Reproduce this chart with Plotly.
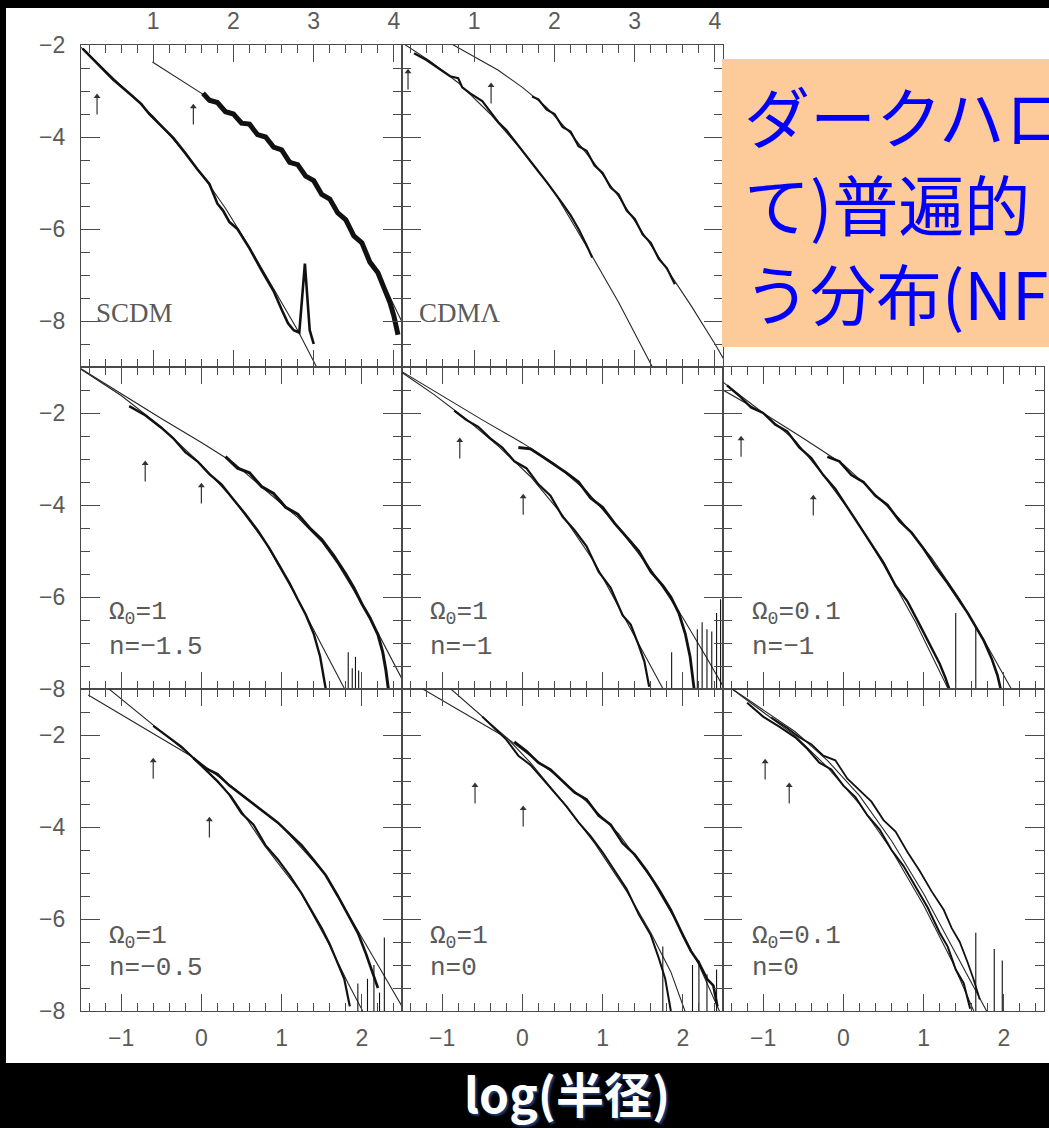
import plotly.graph_objects as go

# ------------------------------------------------------------------ data
# --- top row (x read on the top axis 1..4) ---
scdm_fit_in_x = [0.1, 0.4, 0.7, 1.0, 1.3, 1.6, 1.9, 2.2, 2.5, 2.8, 3.05]
scdm_fit_in_y = [-2.05, -2.55, -3.05, -3.55, -4.15, -4.8, -5.55, -6.4, -7.3, -8.2, -9.05]
scdm_dat_in_x = [0.12, 0.3, 0.5, 0.7, 0.85, 0.95, 1.1, 1.25, 1.4, 1.55, 1.7, 1.8, 1.87, 1.95, 2.05,
                 2.2, 2.35, 2.5, 2.6, 2.68, 2.75, 2.82, 2.89, 2.95, 3.0]
scdm_dat_in_y = [-2.08, -2.4, -2.75, -3.05, -3.28, -3.5, -3.75, -4.02, -4.35, -4.7, -5.02, -5.45, -5.6,
                 -5.85, -6.0, -6.42, -6.9, -7.35, -7.75, -8.05, -8.2, -8.25, -6.75, -8.2, -8.5]
scdm_fit_out_x = [0.99, 1.3, 1.7, 2.1, 2.5, 2.9, 3.3, 3.6, 3.9, 4.15]
scdm_fit_out_y = [-2.37, -2.72, -3.16, -3.64, -4.17, -4.8, -5.6, -6.35, -7.3, -8.2]
scdm_dat_out_x = [1.62, 1.7, 1.8, 1.9, 2.0, 2.1, 2.2, 2.3, 2.4, 2.5, 2.6, 2.7, 2.8, 2.9, 3.0, 3.1, 3.2,
                  3.3, 3.4, 3.5, 3.6, 3.7, 3.8, 3.9, 3.95, 4.0, 4.05]
scdm_dat_out_y = [-3.05, -3.2, -3.25, -3.45, -3.5, -3.7, -3.72, -3.95, -4.0, -4.22, -4.28, -4.55, -4.6,
                  -4.85, -4.95, -5.25, -5.35, -5.65, -5.8, -6.15, -6.3, -6.72, -6.95, -7.35, -7.6, -7.9, -8.3]
scdm_spk_x, scdm_spk_y = [], []
scdm_arr_x = [0.3, 1.5]
scdm_arr_y = [-3.04, -3.26]

cdml_fit_in_x = [0.1, 0.45, 0.8, 1.2, 1.6, 2.0, 2.4, 2.8, 3.22]
cdml_fit_in_y = [-1.95, -2.35, -2.82, -3.5, -4.3, -5.2, -6.38, -7.6, -9.0]
cdml_dat_in_x = [0.25, 0.4, 0.55, 0.7, 0.8, 0.85, 0.95, 1.1, 1.2, 1.3, 1.4, 1.5, 1.6, 1.7, 1.8, 1.9,
                 2.0, 2.1, 2.2, 2.3, 2.4, 2.47]
cdml_dat_in_y = [-2.18, -2.32, -2.5, -2.68, -2.72, -2.92, -3.05, -3.22, -3.45, -3.68, -3.85, -4.08,
                 -4.3, -4.52, -4.75, -4.97, -5.2, -5.45, -5.7, -6.0, -6.35, -6.62]
cdml_fit_out_x = [0.72, 1.0, 1.3, 1.6, 1.9, 2.2, 2.5, 2.8, 3.1, 3.4, 3.7, 4.0, 4.15]
cdml_fit_out_y = [-1.98, -2.25, -2.55, -2.92, -3.35, -3.92, -4.58, -5.3, -6.08, -6.86, -7.66, -8.5, -8.95]
cdml_dat_out_x = [1.72, 1.8, 1.9, 2.0, 2.1, 2.2, 2.3, 2.4, 2.5, 2.6, 2.7, 2.8, 2.9, 3.0, 3.1, 3.2, 3.3,
                  3.4, 3.5]
cdml_dat_out_y = [-3.12, -3.18, -3.4, -3.5, -3.78, -3.88, -4.2, -4.3, -4.62, -4.78, -5.1, -5.25, -5.6,
                  -5.78, -6.12, -6.3, -6.65, -6.85, -7.2]
cdml_spk_x, cdml_spk_y = [], []
cdml_arr_x = [0.175, 1.21]
cdml_arr_y = [-2.5, -2.8]

# --- middle row ---
m15_fit_out_x = [-1.5, -1.0, -0.5, 0.0, 0.4, 0.8, 1.2, 1.5, 1.7, 1.95, 2.2, 2.55]
m15_fit_out_y = [-1.04, -1.58, -2.12, -2.64, -3.08, -3.68, -4.27, -4.8, -5.28, -6.0, -6.78, -7.95]
m15_fit_in_x = [-1.5, -1.0, -0.5, 0.0, 0.4, 0.8, 1.2, 1.5, 1.8]
m15_fit_in_y = [-1.05, -1.62, -2.3, -3.12, -3.88, -4.82, -6.05, -7.05, -8.05]
m15_dat_out_x = [0.3, 0.45, 0.6, 0.75, 0.9, 1.05, 1.2, 1.35, 1.5, 1.65, 1.8, 1.9, 2.0, 2.1, 2.2, 2.26,
                 2.3, 2.33]
m15_dat_out_y = [-2.95, -3.2, -3.3, -3.6, -3.75, -4.05, -4.2, -4.5, -4.75, -5.1, -5.5, -5.8, -6.15,
                 -6.45, -6.82, -7.2, -7.6, -8.0]
m15_dat_in_x = [-0.9, -0.7, -0.5, -0.35, -0.2, -0.05, 0.1, 0.25, 0.4, 0.55, 0.7, 0.85, 1.0, 1.1, 1.2,
                1.3, 1.4, 1.48, 1.55]
m15_dat_in_y = [-1.85, -2.05, -2.32, -2.55, -2.85, -3.05, -3.33, -3.55, -3.88, -4.2, -4.55, -4.95,
                -5.4, -5.7, -6.05, -6.38, -6.8, -7.3, -8.0]
m15_spk_x = [1.83, 1.88, 1.92, 1.96]
m15_spk_y = [-7.2, -7.55, -7.3, -7.6]
m15_arr_x = [-0.7, 0.0]
m15_arr_y = [-3.02, -3.5]

m10_fit_out_x = [-1.5, -1.0, -0.5, 0.0, 0.4, 0.8, 1.2, 1.6, 2.0, 2.3, 2.52]
m10_fit_out_y = [-1.1, -1.63, -2.15, -2.65, -3.1, -3.7, -4.5, -5.4, -6.45, -7.33, -8.0]
m10_fit_in_x = [-1.5, -1.1, -0.7, -0.3, 0.1, 0.5, 0.9, 1.3, 1.6, 1.76]
m10_fit_in_y = [-1.12, -1.6, -2.13, -2.72, -3.38, -4.22, -5.25, -6.55, -7.5, -8.02]
m10_dat_out_x = [-0.05, 0.1, 0.25, 0.4, 0.55, 0.7, 0.85, 1.0, 1.15, 1.3, 1.45, 1.6, 1.75, 1.85, 1.95,
                 2.03, 2.09, 2.14]
m10_dat_out_y = [-2.75, -2.78, -2.95, -3.12, -3.3, -3.5, -3.85, -4.05, -4.4, -4.7, -5.0, -5.45, -5.75,
                 -6.0, -6.35, -6.8, -7.3, -8.0]
m10_dat_in_x = [-0.85, -0.7, -0.55, -0.4, -0.25, -0.1, 0.05, 0.2, 0.35, 0.5, 0.65, 0.8, 0.95, 1.1,
                1.25, 1.35, 1.45, 1.52, 1.58]
m10_dat_in_y = [-1.95, -2.15, -2.3, -2.55, -2.75, -3.05, -3.2, -3.55, -3.8, -4.25, -4.55, -4.9, -5.45,
                -5.8, -6.4, -6.6, -7.05, -7.4, -7.95]
m10_spk_x = [1.86, 2.18, 2.24, 2.3, 2.36, 2.42, 2.47, 2.5]
m10_spk_y = [-7.2, -6.7, -6.55, -6.7, -6.75, -6.35, -6.05, -6.5]
m10_arr_x = [-0.78, 0.01]
m10_arr_y = [-2.52, -3.74]

l10_fit_out_x = [-1.5, -1.0, -0.5, 0.0, 0.3, 0.7, 1.1, 1.45, 1.75, 2.1]
l10_fit_out_y = [-1.5, -2.0, -2.55, -3.12, -3.6, -4.3, -5.15, -6.05, -6.93, -8.02]
l10_fit_in_x = [-1.5, -1.0, -0.6, -0.25, 0.15, 0.5, 0.9, 1.3]
l10_fit_in_y = [-1.33, -2.0, -2.6, -3.35, -4.3, -5.3, -6.55, -7.98]
l10_dat_out_x = [-0.2, -0.05, 0.1, 0.25, 0.4, 0.55, 0.7, 0.85, 1.0, 1.15, 1.3, 1.45, 1.55, 1.65, 1.75,
                 1.85, 1.92, 1.96]
l10_dat_out_y = [-2.95, -3.05, -3.35, -3.5, -3.8, -4.0, -4.35, -4.6, -4.95, -5.35, -5.7, -6.1, -6.35,
                 -6.65, -6.95, -7.35, -7.7, -8.0]
l10_dat_in_x = [-1.45, -1.3, -1.15, -1.0, -0.85, -0.7, -0.55, -0.4, -0.25, -0.1, 0.05, 0.2, 0.35, 0.5,
                0.65, 0.8, 0.95, 1.1, 1.2, 1.27, 1.32]
l10_dat_in_y = [-1.4, -1.62, -1.88, -2.0, -2.25, -2.4, -2.75, -2.98, -3.35, -3.65, -4.05, -4.45, -4.85,
                -5.25, -5.75, -6.1, -6.6, -7.1, -7.45, -7.75, -8.0]
l10_spk_x = [1.4, 1.65]
l10_spk_y = [-6.35, -6.65]
l10_arr_x = [-1.275, -0.375]
l10_arr_y = [-2.48, -3.76]

# --- bottom row ---
b05_fit_a_x = [-1.41, -1.0, -0.5, -0.125, 0.4, 1.0, 1.53, 1.87, 2.2, 2.55]
b05_fit_a_y = [-1.13, -1.55, -2.07, -2.46, -3.15, -3.98, -5.0, -6.0, -7.0, -8.05]
b05_fit_b_x = [-1.2, -0.8, -0.5, -0.125, 0.375, 0.79, 1.24, 1.575, 1.83, 2.01]
b05_fit_b_y = [-0.93, -1.5, -1.92, -2.46, -3.33, -4.41, -5.43, -6.5, -7.4, -8.0]
b05_dat_a_x = [-0.1, 0.05, 0.2, 0.35, 0.5, 0.65, 0.8, 0.95, 1.1, 1.25, 1.4, 1.55, 1.7, 1.82, 1.95, 2.05,
               2.12, 2.2]
b05_dat_a_y = [-2.5, -2.72, -2.85, -3.1, -3.3, -3.5, -3.72, -3.9, -4.15, -4.4, -4.72, -5.05, -5.5,
               -5.9, -6.3, -6.75, -7.1, -7.5]
b05_dat_b_x = [-0.6, -0.4, -0.25, -0.1, 0.05, 0.2, 0.35, 0.5, 0.65, 0.8, 0.95, 1.1, 1.25, 1.4, 1.5,
               1.6, 1.7, 1.78, 1.85]
b05_dat_b_y = [-1.8, -2.05, -2.25, -2.5, -2.75, -3.0, -3.3, -3.7, -3.95, -4.4, -4.7, -5.05, -5.45,
               -5.9, -6.2, -6.55, -6.95, -7.3, -7.9]
b05_spk_x = [1.95, 2.07, 2.15, 2.22, 2.28]
b05_spk_y = [-7.4, -7.3, -7.0, -7.6, -6.4]
b05_arr_x = [-0.6, 0.1]
b05_arr_y = [-2.48, -3.76]

b00_fit_a_x = [-1.3, -0.8, -0.4, -0.19, 0.1, 0.4, 0.8, 1.2, 1.6, 1.9, 2.2, 2.46]
b00_fit_a_y = [-0.94, -1.45, -1.86, -2.07, -2.45, -2.85, -3.45, -4.15, -5.1, -6.0, -7.0, -8.02]
b00_fit_b_x = [-0.95, -0.6, -0.19, 0.1, 0.5, 0.9, 1.3, 1.6, 1.85, 2.03]
b00_fit_b_y = [-0.91, -1.45, -2.07, -2.6, -3.45, -4.35, -5.4, -6.3, -7.15, -8.02]
b00_dat_a_x = [-0.1, 0.05, 0.2, 0.35, 0.5, 0.65, 0.8, 0.95, 1.1, 1.25, 1.4, 1.55, 1.7, 1.85, 2.0, 2.1,
               2.2, 2.3, 2.38, 2.43]
b00_dat_a_y = [-2.15, -2.35, -2.6, -2.75, -3.0, -3.25, -3.4, -3.75, -3.95, -4.35, -4.6, -4.95, -5.35,
               -5.8, -6.35, -6.7, -6.95, -7.3, -7.45, -7.9]
b00_dat_b_x = [-0.5, -0.35, -0.2, -0.05, 0.1, 0.25, 0.4, 0.55, 0.7, 0.85, 1.0, 1.15, 1.3, 1.45, 1.6,
               1.7, 1.78, 1.85]
b00_dat_b_y = [-1.6, -1.85, -2.1, -2.45, -2.65, -2.95, -3.25, -3.55, -3.9, -4.2, -4.55, -4.95, -5.35,
               -5.9, -6.35, -6.85, -7.3, -8.0]
b00_spk_x = [1.75, 2.12, 2.2, 2.3, 2.42]
b00_spk_y = [-6.6, -7.0, -6.9, -7.2, -7.1]
b00_arr_x = [-0.59, 0.01]
b00_arr_y = [-3.02, -3.52]

b01_fit_a_x = [-1.45, -1.0, -0.6, -0.2, 0.2, 0.6, 1.0, 1.4, 1.8]
b01_fit_a_y = [-0.92, -1.45, -1.93, -2.55, -3.32, -4.3, -5.45, -6.75, -8.05]
b01_fit_b_x = [-1.45, -1.0, -0.6, -0.2, 0.2, 0.6, 1.0, 1.35, 1.63]
b01_fit_b_y = [-0.92, -1.5, -2.02, -2.7, -3.5, -4.5, -5.7, -6.9, -8.02]
b01_dat_a_x = [-0.9, -0.7, -0.55, -0.4, -0.25, -0.1, 0.05, 0.2, 0.35, 0.5, 0.65, 0.8, 0.95, 1.1, 1.25,
               1.35, 1.45, 1.55, 1.62, 1.7]
b01_dat_a_y = [-1.62, -1.85, -2.05, -2.2, -2.45, -2.55, -2.95, -3.2, -3.45, -3.85, -4.1, -4.55, -4.95,
               -5.4, -5.8, -6.2, -6.5, -6.95, -7.3, -7.75]
b01_dat_b_x = [-1.2, -1.0, -0.8, -0.6, -0.45, -0.3, -0.15, 0.0, 0.15, 0.3, 0.45, 0.6, 0.75, 0.9, 1.05,
               1.2, 1.3, 1.4, 1.5, 1.58]
b01_dat_b_y = [-1.3, -1.6, -1.82, -2.05, -2.3, -2.6, -2.75, -3.1, -3.35, -3.75, -4.05, -4.5, -4.85,
               -5.3, -5.75, -6.3, -6.6, -7.1, -7.4, -7.95]
b01_spk_x = [1.65, 1.88, 1.98]
b01_spk_y = [-6.3, -6.65, -6.9]
b01_arr_x = [-0.975, -0.675]
b01_arr_y = [-2.5, -3.02]

# panel texts
scdm_labels = [("SCDM", 0.26, -7.83)]
cdml_labels = [("CDMΛ", 0.29, -7.83)]
m15_labels = [("Ω<sub>0</sub>=1", -1.175, -6.35), ("n=−1.5", -1.175, -7.09)]
m10_labels = [("Ω<sub>0</sub>=1", -1.175, -6.35), ("n=−1", -1.175, -7.09)]
l10_labels = [("Ω<sub>0</sub>=0.1", -1.16, -6.35), ("n=−1", -1.16, -7.09)]
b05_labels = [("Ω<sub>0</sub>=1", -1.175, -6.39), ("n=−0.5", -1.175, -7.07)]
b00_labels = [("Ω<sub>0</sub>=1", -1.175, -6.39), ("n=0", -1.175, -7.07)]
b01_labels = [("Ω<sub>0</sub>=0.1", -1.16, -6.39), ("n=0", -1.16, -7.07)]

box_lines = ["ダークハロ", "て)普遍的", "う分布(NF"]
xlabel_text = "log(半径)"

# ------------------------------------------------------------------ layout geometry
W, H = 1049, 1128
col_px = [(81, 402), (402, 723), (723, 1044)]
row_px = [(45, 367), (367, 689), (689, 1011)]
TOP_X = [0.1, 4.1]
TOP_Y = [-9, -2]
LOW_X = [-1.5, 2.5]
LOW_Y = [-8, -1]
ARROW_LEN = 0.47   # arrow shaft length in y-units (style)

panels = [
    dict(r=0, c=0, xr=TOP_X, yr=TOP_Y,
         fits=[(scdm_fit_in_x, scdm_fit_in_y), (scdm_fit_out_x, scdm_fit_out_y)],
         data=[(scdm_dat_in_x, scdm_dat_in_y, 2.6), (scdm_dat_out_x, scdm_dat_out_y, 5.0)],
         spk=(scdm_spk_x, scdm_spk_y), arr=(scdm_arr_x, scdm_arr_y), labels=scdm_labels, serif=True),
    dict(r=0, c=1, xr=TOP_X, yr=TOP_Y,
         fits=[(cdml_fit_in_x, cdml_fit_in_y), (cdml_fit_out_x, cdml_fit_out_y)],
         data=[(cdml_dat_in_x, cdml_dat_in_y, 2.2), (cdml_dat_out_x, cdml_dat_out_y, 2.2)],
         spk=(cdml_spk_x, cdml_spk_y), arr=(cdml_arr_x, cdml_arr_y), labels=cdml_labels, serif=True),
    dict(r=1, c=0, xr=LOW_X, yr=LOW_Y,
         fits=[(m15_fit_in_x, m15_fit_in_y), (m15_fit_out_x, m15_fit_out_y)],
         data=[(m15_dat_in_x, m15_dat_in_y, 2.4), (m15_dat_out_x, m15_dat_out_y, 3.0)],
         spk=(m15_spk_x, m15_spk_y), arr=(m15_arr_x, m15_arr_y), labels=m15_labels, serif=False),
    dict(r=1, c=1, xr=LOW_X, yr=LOW_Y,
         fits=[(m10_fit_in_x, m10_fit_in_y), (m10_fit_out_x, m10_fit_out_y)],
         data=[(m10_dat_in_x, m10_dat_in_y, 2.2), (m10_dat_out_x, m10_dat_out_y, 2.8)],
         spk=(m10_spk_x, m10_spk_y), arr=(m10_arr_x, m10_arr_y), labels=m10_labels, serif=False),
    dict(r=1, c=2, xr=LOW_X, yr=LOW_Y,
         fits=[(l10_fit_in_x, l10_fit_in_y), (l10_fit_out_x, l10_fit_out_y)],
         data=[(l10_dat_in_x, l10_dat_in_y, 2.4), (l10_dat_out_x, l10_dat_out_y, 2.6)],
         spk=(l10_spk_x, l10_spk_y), arr=(l10_arr_x, l10_arr_y), labels=l10_labels, serif=False),
    dict(r=2, c=0, xr=LOW_X, yr=LOW_Y,
         fits=[(b05_fit_a_x, b05_fit_a_y), (b05_fit_b_x, b05_fit_b_y)],
         data=[(b05_dat_a_x, b05_dat_a_y, 2.6), (b05_dat_b_x, b05_dat_b_y, 2.2)],
         spk=(b05_spk_x, b05_spk_y), arr=(b05_arr_x, b05_arr_y), labels=b05_labels, serif=False),
    dict(r=2, c=1, xr=LOW_X, yr=LOW_Y,
         fits=[(b00_fit_a_x, b00_fit_a_y), (b00_fit_b_x, b00_fit_b_y)],
         data=[(b00_dat_a_x, b00_dat_a_y, 2.6), (b00_dat_b_x, b00_dat_b_y, 2.0)],
         spk=(b00_spk_x, b00_spk_y), arr=(b00_arr_x, b00_arr_y), labels=b00_labels, serif=False),
    dict(r=2, c=2, xr=LOW_X, yr=LOW_Y,
         fits=[(b01_fit_a_x, b01_fit_a_y), (b01_fit_b_x, b01_fit_b_y)],
         data=[(b01_dat_a_x, b01_dat_a_y, 1.8), (b01_dat_b_x, b01_dat_b_y, 2.0)],
         spk=(b01_spk_x, b01_spk_y), arr=(b01_arr_x, b01_arr_y), labels=b01_labels, serif=False),
]

FRAME = "#4a4a4a"
LABEL = "#5a5a5a"
CURVE = "#111111"
FITC = "#262626"
TICKFONT = dict(family="Liberation Sans", size=23, color=LABEL)

fig = go.Figure()
annotations = []
layout = {}

for i, p in enumerate(panels, start=1):
    xa = "x" if i == 1 else f"x{i}"
    ya = "y" if i == 1 else f"y{i}"
    xk = "xaxis" if i == 1 else f"xaxis{i}"
    yk = "yaxis" if i == 1 else f"yaxis{i}"
    x0, x1 = col_px[p["c"]]
    y0, y1 = row_px[p["r"]]

    layout[xk] = dict(
        domain=[x0 / W, x1 / W], anchor=ya, range=p["xr"],
        showline=True, linecolor=FRAME, linewidth=1.4, mirror="ticks",
        ticks="inside", ticklen=17, tickwidth=1.2, tickcolor=FRAME,
        dtick=1, tick0=0, showgrid=False, zeroline=False, tickfont=TICKFONT,
        minor=dict(ticks="inside", ticklen=8, dtick=0.2, tick0=0, tickcolor=FRAME,
                   tickwidth=1.1, showgrid=False),
        showticklabels=(p["r"] in (0, 2)), side=("top" if p["r"] == 0 else "bottom"),
        ticklabelstandoff=6, automargin=False, fixedrange=True,
    )
    layout[yk] = dict(
        domain=[1 - y1 / H, 1 - y0 / H], anchor=xa, range=p["yr"],
        showline=True, linecolor=FRAME, linewidth=1.4, mirror="ticks",
        ticks="inside", ticklen=19, tickwidth=1.2, tickcolor=FRAME,
        dtick=2, tick0=0, showgrid=False, zeroline=False, tickfont=TICKFONT,
        minor=dict(ticks="inside", ticklen=9, dtick=0.5, tick0=0, tickcolor=FRAME,
                   tickwidth=1.1, showgrid=False),
        showticklabels=(p["c"] == 0), ticklabelstandoff=10, automargin=False, fixedrange=True,
    )

    for fx, fy in p["fits"]:
        fig.add_trace(go.Scatter(x=fx, y=fy, mode="lines", xaxis=xa, yaxis=ya,
                                 line=dict(color=FITC, width=1.1), showlegend=False,
                                 hoverinfo="skip"))
    for dx, dy, w in p["data"]:
        fig.add_trace(go.Scatter(x=dx, y=dy, mode="lines", xaxis=xa, yaxis=ya,
                                 line=dict(color=CURVE, width=w), showlegend=False,
                                 hoverinfo="skip"))
    sx, sy = p["spk"]
    if sx:
        xs, ys = [], []
        for a, b in zip(sx, sy):
            xs += [a, a, None]
            ys += [p["yr"][0], b, None]
        fig.add_trace(go.Scatter(x=xs, y=ys, mode="lines", xaxis=xa, yaxis=ya,
                                 line=dict(color=CURVE, width=1.1), showlegend=False,
                                 hoverinfo="skip"))
    # arrows: shaft + small head, from the arrow-tip arrays
    ax_list, ay_list = p["arr"]
    sxs, sys_ = [], []
    for axv, ayv in zip(ax_list, ay_list):
        sxs += [axv, axv, None]
        sys_ += [ayv - ARROW_LEN, ayv - 0.05, None]
    fig.add_trace(go.Scatter(x=sxs, y=sys_, mode="lines", xaxis=xa, yaxis=ya,
                             line=dict(color="#333333", width=1.2), showlegend=False,
                             hoverinfo="skip"))
    fig.add_trace(go.Scatter(x=ax_list, y=[v - 0.08 for v in ay_list], mode="markers",
                             xaxis=xa, yaxis=ya,
                             marker=dict(symbol="triangle-up", size=6, color="#333333",
                                         line=dict(width=0)),
                             showlegend=False, hoverinfo="skip"))
    for txt, tx, ty in p["labels"]:
        if p["serif"]:
            f = dict(family="Liberation Serif", size=27, color=LABEL)
        else:
            f = dict(family="Liberation Mono", size=26, color=LABEL)
        annotations.append(dict(x=tx, y=ty, xref=xa, yref=ya, text=txt, showarrow=False,
                                xanchor="left", yanchor="middle", font=f))

# orange note box text
box_y_px = [114, 202, 291]
for line, ypx in zip(box_lines, box_y_px):
    annotations.append(dict(x=742 / W, y=1 - ypx / H, xref="paper", yref="paper", text=line,
                            showarrow=False, xanchor="left", yanchor="middle",
                            font=dict(family="Noto Sans CJK JP", size=66, color="#0000FF")))

annotations.append(dict(x=567 / W, y=1 - 1092 / H, xref="paper", yref="paper", text=xlabel_text,
                        showarrow=False, xanchor="center", yanchor="middle",
                        font=dict(family="Noto Sans CJK JP", size=48, color="white",
                                  weight="bold", shadow="2px 2px 2px #1c3a6e")))

shapes = [
    dict(type="rect", xref="paper", yref="paper", x0=6 / W, x1=1.0, y0=1 - 1063 / H, y1=1 - 8 / H,
         fillcolor="white", line=dict(width=0), layer="below"),
    dict(type="rect", xref="paper", yref="paper", x0=722 / W, x1=1.0, y0=1 - 347 / H, y1=1 - 59 / H,
         fillcolor="#FDCB99", line=dict(width=0), layer="above"),
]

fig.update_layout(
    width=W, height=H, autosize=False,
    margin=dict(l=0, r=0, t=0, b=0, pad=0, autoexpand=False),
    paper_bgcolor="black", plot_bgcolor="white",
    shapes=shapes, annotations=annotations, showlegend=False,
    **layout,
)

fig.write_html("out.html", config=dict(displayModeBar=False))
